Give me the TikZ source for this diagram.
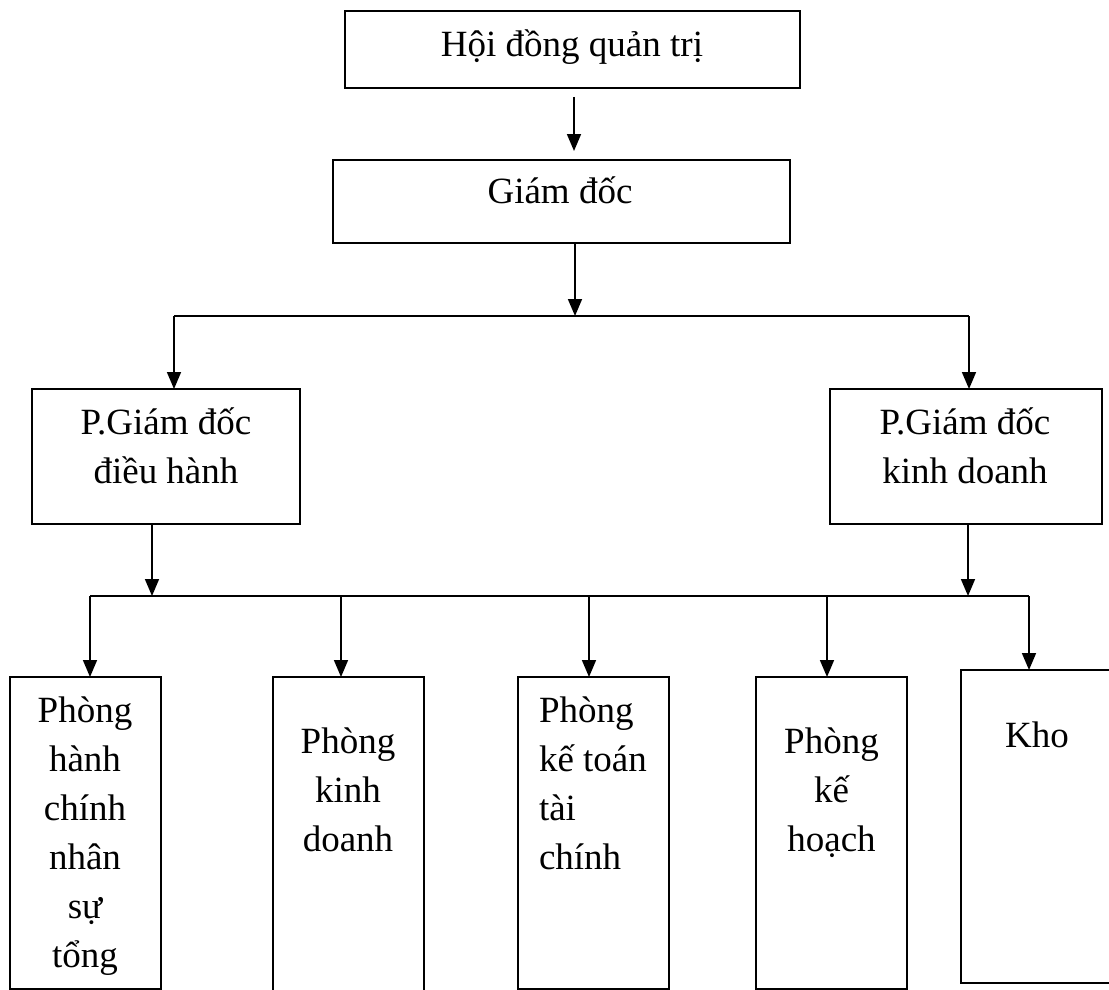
\documentclass[tikz,border=0pt]{standalone}
\usepackage{fontspec}
\setmainfont{Liberation Serif}
\usetikzlibrary{arrows.meta}
\tikzset{
  box/.style={draw, line width=1.7pt, rectangle, inner sep=0pt, outer sep=0pt},
  txt/.style={inner sep=0pt, outer sep=0pt, font=\fontsize{37pt}{49pt}\selectfont},
  conn/.style={line width=1.7pt},
  arr/.style={line width=1.7pt, -{Triangle[length=17pt,width=14pt]}}
}
\newcommand{\ctrlines}[1]{\parbox[t]{260pt}{\centering #1}}
\newcommand{\leftlines}[1]{\parbox[t]{260pt}{\raggedright #1}}
\begin{document}
\begin{tikzpicture}[x=1pt,y=-1pt]
\useasboundingbox (0,0) rectangle (1109,990);
\clip (0,0) rectangle (1109,990);
% boxes
\node[box, minimum width=455pt, minimum height=77pt] (hd) at (572.5,49.5) {};
\node[box, minimum width=457pt, minimum height=83pt] (gd) at (561.5,201.5) {};
\node[box, minimum width=268pt, minimum height=135pt] (pdh) at (166,456.5) {};
\node[box, minimum width=272pt, minimum height=135pt] (pkd) at (966,456.5) {};
\node[box, minimum width=151pt, minimum height=312pt] (b1) at (85.5,833) {};
\node[box, minimum width=151pt, minimum height=333pt] (b2) at (348.5,843.5) {};
\node[box, minimum width=151pt, minimum height=312pt] (b3) at (593.5,833) {};
\node[box, minimum width=151pt, minimum height=312pt] (b4) at (831.5,833) {};
\node[box, minimum width=152pt, minimum height=313pt] (kho) at (1037,826.5) {};
% texts
\node[txt, anchor=base] (hdt) at (572,57) {Hội đồng quản trị};
\node[txt, anchor=base] (gdt) at (560,203) {Giám đốc};
\node[txt, anchor=base] (pdht) at (166,434) {\ctrlines{P.Giám đốc\\điều hành}};
\node[txt, anchor=base] (pkdt) at (965,434) {\ctrlines{P.Giám đốc\\kinh doanh}};
\node[txt, anchor=base] (b1t) at (85,722) {\ctrlines{Phòng\\hành\\chính\\nhân\\sự\\tổng}};
\node[txt, anchor=base] (b2t) at (348,753) {\ctrlines{Phòng\\kinh\\doanh}};
\node[txt, anchor=base west] (b3t) at (539,722) {\leftlines{Phòng\\kế toán\\tài\\chính}};
\node[txt, anchor=base] (b4t) at (831.5,753) {\ctrlines{Phòng\\kế\\hoạch}};
\node[txt, anchor=base] (khot) at (1037,747) {Kho};
% junction coordinates
\coordinate (a0s) at (574,97);
\coordinate (a0e) at (574,151);
\coordinate (j1) at (575,316);
\coordinate (l1) at (174,316);
\coordinate (r1) at (969,316);
\coordinate (j2a) at (152,596);
\coordinate (j2b) at (968,596);
\coordinate (l2) at (90,596);
\coordinate (r2) at (1029,596);
\coordinate (c2) at (341,596);
\coordinate (c3) at (589,596);
\coordinate (c4) at (827,596);
% connectors
\draw[arr] (a0s) -- (a0e);
\draw[arr] (gd.south -| j1) -- (j1);
\draw[conn] (l1) -- (r1);
\draw[arr] (l1) -- (pdh.north -| l1);
\draw[arr] (r1) -- (pkd.north -| r1);
\draw[arr] (pdh.south -| j2a) -- (j2a);
\draw[arr] (pkd.south -| j2b) -- (j2b);
\draw[conn] (l2) -- (r2);
\draw[arr] (l2) -- (b1.north -| l2);
\draw[arr] (c2) -- (b2.north -| c2);
\draw[arr] (c3) -- (b3.north -| c3);
\draw[arr] (c4) -- (b4.north -| c4);
\draw[arr] (r2) -- (kho.north -| r2);
\end{tikzpicture}
\end{document}
